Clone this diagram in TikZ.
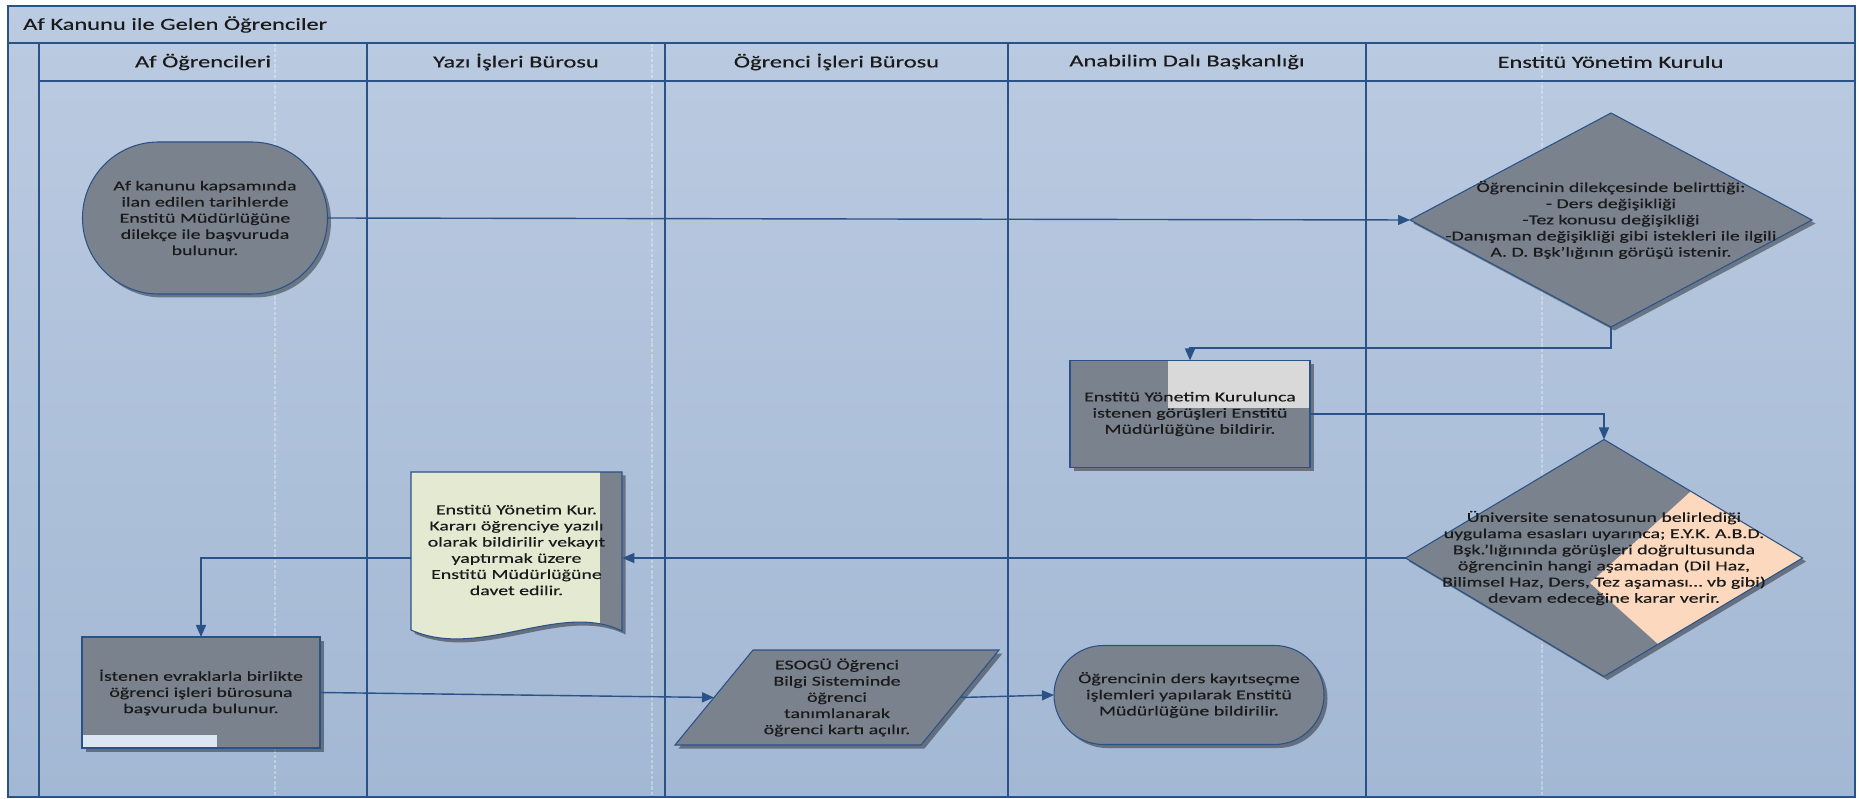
\documentclass[tikz,border=0pt]{standalone}
\usepackage{fontspec}
\setmainfont[FakeStretch=1.45,FakeBold=0.35]{Carlito}
\usetikzlibrary{shapes.geometric,shapes.misc,arrows.meta,shadows}

\definecolor{laneblue}{RGB}{43,82,134}
\definecolor{bgtop}{RGB}{187,203,225}
\definecolor{bgbot}{RGB}{163,184,212}
\definecolor{boxgray}{RGB}{122,130,142}
\definecolor{docgreen}{RGB}{227,234,209}
\definecolor{peach}{RGB}{252,217,190}
\definecolor{lightpatch}{RGB}{217,217,217}
\definecolor{palepatch}{RGB}{220,230,242}
\definecolor{inktext}{RGB}{26,26,26}

\begin{document}
\begin{tikzpicture}[
  lane/.style={draw=laneblue, line width=1.1pt},
  pagebreak/.style={draw=white, opacity=0.3, dash pattern=on 2pt off 1pt, line width=0.6pt},
  headtext/.style={font=\fontsize{9.6pt}{11pt}\selectfont, text=inktext},
  bodytext/.style={font=\fontsize{7.8pt}{9.2pt}\selectfont, text=inktext, align=center, inner sep=0pt},
  shapebase/.style={fill=boxgray, draw=laneblue, line width=0.6pt, bodytext, outer sep=0pt,
    drop shadow={shadow xshift=0.07cm, shadow yshift=-0.07cm, fill=black, opacity=0.4}},
  term/.style={shapebase, rounded rectangle},
  procbox/.style={shapebase, rectangle},
  decision/.style={shapebase, diamond},
  inout/.style={shapebase, trapezium, trapezium left angle=45, trapezium right angle=135,
    trapezium stretches body},
  flow/.style={draw=laneblue, line width=0.8pt, -{Triangle[length=0.24cm,width=0.2cm]}},
]
\useasboundingbox (0,0) rectangle (37.18,15.96);

% pool and lanes
\shade[top color=bgtop, bottom color=bgbot] (0.16,0.02) rectangle (37.10,15.84);
\draw[pagebreak] (5.5,15.10) -- (5.5,0.02);
\draw[pagebreak] (13.04,15.10) -- (13.04,0.02);
\draw[pagebreak] (30.84,15.10) -- (30.84,0.02);
\draw[lane] (0.16,0.02) rectangle (37.10,15.84);
\draw[lane] (0.16,15.10) -- (37.10,15.10);
\draw[lane] (0.78,14.34) -- (37.10,14.34);
\draw[lane] (0.78,15.10) -- (0.78,0.02);
\draw[lane] (7.34,15.10) -- (7.34,0.02);
\draw[lane] (13.30,15.10) -- (13.30,0.02);
\draw[lane] (20.16,15.10) -- (20.16,0.02);
\draw[lane] (27.32,15.10) -- (27.32,0.02);

\node[headtext, anchor=west] (poolTitle) at (0.34,15.47) {Af Kanunu ile Gelen Öğrenciler};
\node[headtext] (hdAf) at (4.06,14.72) {Af Öğrencileri};
\node[headtext] (hdYazi) at (10.32,14.72) {Yazı İşleri Bürosu};
\node[headtext] (hdOgrenci) at (16.73,14.72) {Öğrenci İşleri Bürosu};
\node[headtext] (hdAbd) at (23.74,14.72) {Anabilim Dalı Başkanlığı};
\node[headtext] (hdEyk) at (32.21,14.72) {Enstitü Yönetim Kurulu};

% shapes
\node[term, minimum width=4.9cm, minimum height=3.04cm] (basvuru) at (4.10,11.60)
  {Af kanunu kapsamında\\ilan edilen tarihlerde\\Enstitü Müdürlüğüne\\dilekçe ile başvuruda\\bulunur.};

\node[decision, minimum width=8.04cm, minimum height=4.28cm] (dilekce) at (32.22,11.56) {};
\node[bodytext] (dilekceText) at (dilekce)
  {Öğrencinin dilekçesinde belirttiği:\\- Ders değişikliği\\-Tez konusu değişikliği\\-Danışman değişikliği gibi istekleri ile ilgili\\A. D. Bşk’lığının görüşü istenir.};

\node[procbox, minimum width=4.8cm, minimum height=2.14cm,
  path picture={\fill[lightpatch] ([xshift=-2.84cm]path picture bounding box.north east)
    rectangle ([yshift=-0.96cm]path picture bounding box.north east);}] (gorus) at (23.80,7.68)
  {Enstitü Yönetim Kurulunca\\istenen görüşleri Enstitü\\Müdürlüğüne bildirir.};

\node[decision, minimum width=7.94cm, minimum height=4.74cm,
  path picture={\fill[peach] ([shift={(-0.28,-0.5)}]path picture bounding box.center)
    -- ([shift={(2.8,2.3)}]path picture bounding box.center)
    -- ([shift={(5,2.3)}]path picture bounding box.center)
    -- ([shift={(5,-2.6)}]path picture bounding box.center)
    -- ([shift={(2.06,-2.6)}]path picture bounding box.center) -- cycle;}] (karar) at (32.08,4.80) {};
\node[bodytext] (kararText) at (karar)
  {Üniversite senatosunun belirlediği\\uygulama esasları uyarınca; E.Y.K. A.B.D.\\Bşk.’lığınında görüşleri doğrultusunda\\öğrencinin hangi aşamadan (Dil Haz,\\Bilimsel Haz, Ders, Tez aşaması… vb gibi)\\devam edeceğine karar verir.};

% document shape
\path[fill=docgreen, draw=laneblue, line width=0.6pt,
  drop shadow={shadow xshift=0.07cm, shadow yshift=-0.07cm, fill=black, opacity=0.4},
  path picture={\fill[boxgray] (12.0,2.5) rectangle (12.5,6.6);}]
  (8.22,6.52) -- (12.44,6.52) -- (12.44,3.34) .. controls (11.2,3.95) and (9.6,2.75) .. (8.22,3.36) -- cycle;
\node[bodytext, minimum width=4.22cm, minimum height=3.16cm] (yazi) at (10.33,4.96)
  {Enstitü Yönetim Kur.\\Kararı öğrenciye yazılı\\olarak bildirilir vekayıt\\yaptırmak üzere\\Enstitü Müdürlüğüne\\davet edilir.};

\node[procbox, minimum width=4.76cm, minimum height=2.22cm,
  path picture={\fill[palepatch] (path picture bounding box.south west)
    rectangle ([xshift=2.7cm,yshift=0.26cm]path picture bounding box.south west);}] (evrak) at (4.02,2.11)
  {İstenen evraklarla birlikte\\öğrenci işleri bürosuna\\başvuruda bulunur.};

\node[inout, minimum width=6.48cm, minimum height=1.9cm] (esogu) at (16.74,2.01)
  {ESOGÜ Öğrenci\\Bilgi Sisteminde\\öğrenci\\tanımlanarak\\öğrenci kartı açılır.};

\node[term, minimum width=5.4cm, minimum height=1.98cm] (kayit) at (23.78,2.06)
  {Öğrencinin ders kayıtseçme\\işlemleri yapılarak Enstitü\\Müdürlüğüne bildirilir.};

% connectors
\draw[flow] (basvuru.east) -- (dilekce.west);
\draw[flow] (dilekce.south) -- ++(0,-0.42) -| (gorus.north);
\draw[flow] (gorus.east) -| (karar.north);
\draw[flow] (karar.west) -- (karar.west -| yazi.east);
\draw[flow] (yazi.west |- karar.west) -| (evrak.north);
\draw[flow] (evrak.east) -- (esogu.west);
\draw[flow] (esogu.east) -- (kayit.west);
\end{tikzpicture}
\end{document}
